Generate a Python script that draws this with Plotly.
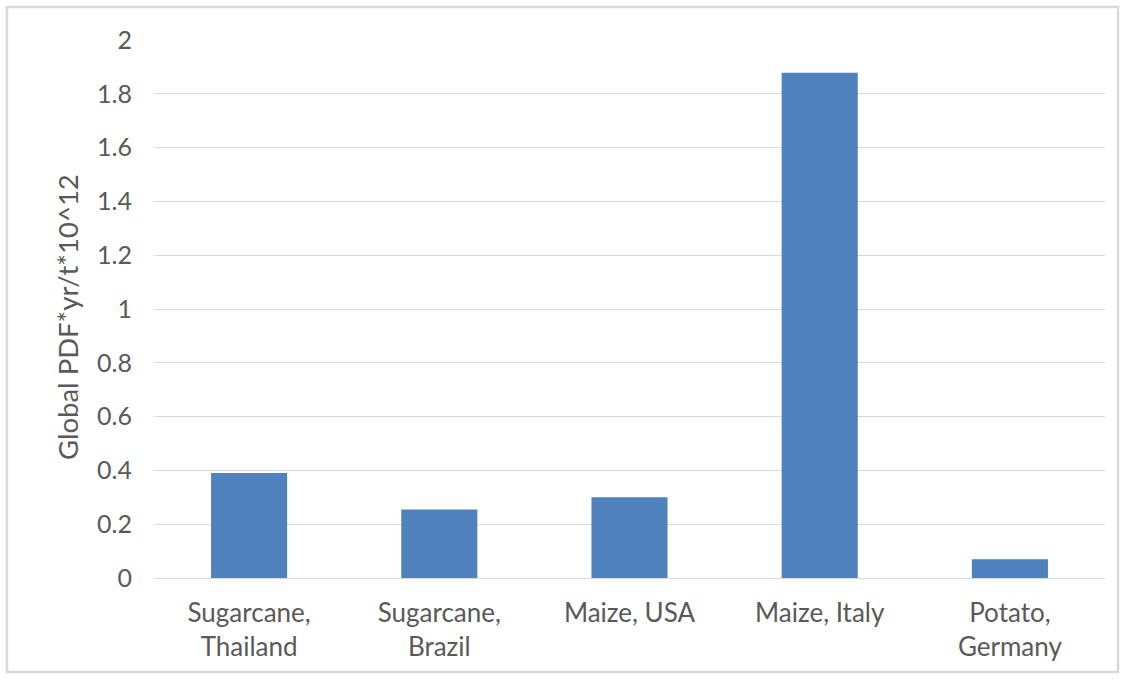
import plotly.graph_objects as go

categories = ["Sugarcane,<br>Thailand", "Sugarcane,<br>Brazil", "Maize, USA", "Maize, Italy", "Potato,<br>Germany"]
values = [0.39, 0.255, 0.30, 1.878, 0.07]
y_ticks = [0, 0.2, 0.4, 0.6, 0.8, 1, 1.2, 1.4, 1.6, 1.8, 2]
y_tick_labels = ["0", "0.2", "0.4", "0.6", "0.8", "1", "1.2", "1.4", "1.6", "1.8", "2"]
y_title = "Global PDF*yr/t*10^12"

W, H = 1131, 681
L, R, T, B = 154, 26, 40, 103
pw, ph = W - L - R, H - T - B

def px_x(px):
    return (px - L) / pw

def px_y(py):
    return (H - B - py) / ph

fig = go.Figure()
fig.add_trace(go.Bar(x=categories, y=values, marker=dict(color="#4f81bd", line=dict(width=0)),
                     hoverinfo="x+y"))

font_family = "Lato, 'Open Sans', sans-serif"
fig.update_layout(
    width=W, height=H,
    margin=dict(l=L, r=R, t=T, b=B, autoexpand=False),
    paper_bgcolor="white", plot_bgcolor="white",
    bargap=0.6,
    showlegend=False,
    font=dict(family=font_family, size=25, color="#595959"),
    xaxis=dict(showgrid=False, showline=False, ticks="", tickfont=dict(size=26, color="#595959"),
               ticklabelstandoff=17, automargin=False),
    yaxis=dict(range=[0, 2], tickvals=y_ticks, ticktext=y_tick_labels, showgrid=True,
               gridcolor="#d9d9d9", gridwidth=1.3, zeroline=True, zerolinecolor="#d9d9d9",
               zerolinewidth=1.3, showline=False, ticks="", ticklabelstandoff=21,
               tickfont=dict(size=25, color="#595959"), automargin=False),
    annotations=[dict(text=y_title, textangle=-90, xref="paper", yref="paper",
                      x=px_x(67), y=px_y(317), xanchor="center", yanchor="middle",
                      showarrow=False, font=dict(size=27.5, color="#595959", family=font_family))],
    shapes=[dict(type="rect", xref="paper", yref="paper",
                 x0=px_x(7), x1=px_x(1118), y0=px_y(7), y1=px_y(672),
                 line=dict(color="#d9d9d9", width=2.5), fillcolor="rgba(0,0,0,0)", layer="below")],
)

fig.write_html("out.html")
